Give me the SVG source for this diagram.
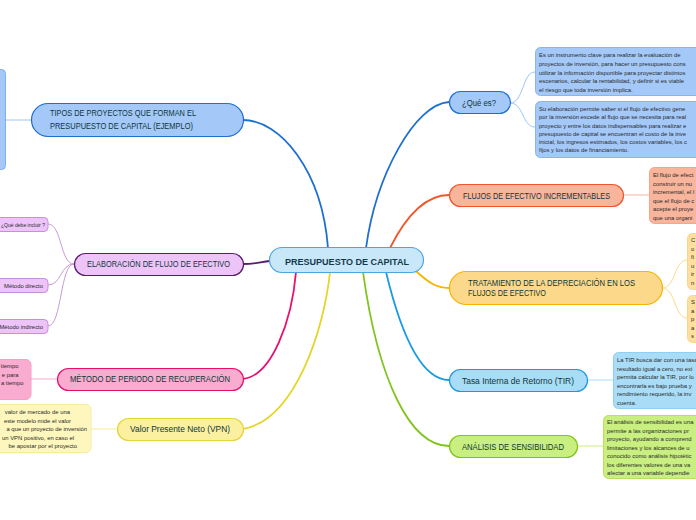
<svg xmlns="http://www.w3.org/2000/svg" width="696" height="520" viewBox="0 0 696 520">
<style>
text{font-family:"Liberation Sans",Arial,sans-serif;}
.lbl{font-size:8.5px;fill:#0f3636;}
.sm{font-size:5.9px;fill:#2a2a2a;}
.node{stroke-width:1.2;}
.conn{fill:none;stroke-width:1.8;stroke-linecap:round;}
.sub{fill:none;stroke-width:1;}
</style>
<rect width="696" height="520" fill="#ffffff"/>
<g id="connectors">
<path class="conn" stroke="#1f6fd1" d="M243,120 C280,120 322,170 328,248"/>
<path class="conn" stroke="#5c1a6e" d="M243,264 C256,264 260,262 270,261"/>
<path class="conn" stroke="#e8106c" d="M243,379 C272,376 292,320 296,272"/>
<path class="conn" stroke="#e6d528" d="M243,429 C295,420 324,330 330,272"/>
<path class="conn" stroke="#1f6fd1" d="M366,248 C376,175 415,104 449,102"/>
<path class="conn" stroke="#f0572a" d="M390,248 C408,212 428,195 449,195"/>
<path class="conn" stroke="#f5b400" d="M417,272 C430,284 438,288 449,288"/>
<path class="conn" stroke="#1a9be0" d="M386,272 C400,330 420,380 449,380"/>
<path class="conn" stroke="#80c41c" d="M363,272 C378,380 410,446 449,446"/>
<path class="sub" stroke="#9cc4f4" d="M5,120 L31,120"/>
<path class="sub" stroke="#c89ad6" d="M74,264 C60,264 62,224 48,224"/>
<path class="sub" stroke="#c89ad6" d="M74,264 C60,264 62,285 48,285"/>
<path class="sub" stroke="#c89ad6" d="M74,264 C60,264 62,326 48,326"/>
<path class="sub" stroke="#f7a8cc" d="M31,379 L57,379"/>
<path class="sub" stroke="#f6ec9c" d="M91,429 L117,429"/>
<path class="sub" stroke="#9cc4f4" d="M510,103 C524,103 522,72 535,72"/>
<path class="sub" stroke="#9cc4f4" d="M510,103 C524,103 522,127 535,127"/>
<path class="sub" stroke="#f7b39c" d="M623,195 L649,195"/>
<path class="sub" stroke="#fbd98a" d="M662,288 C676,288 674,260 687,260"/>
<path class="sub" stroke="#fbd98a" d="M662,288 C676,288 674,318 687,318"/>
<path class="sub" stroke="#a9dcf7" d="M587,380 L613,380"/>
<path class="sub" stroke="#c9ef80" d="M577,446 L603,446"/>
</g>
<g id="central">
<rect class="node" x="269.5" y="247.5" width="154" height="25" rx="12.5" fill="#c8e8fa" stroke="#4da6e0"/>
<text x="285" y="265" font-size="9.5" font-weight="bold" fill="#143a4a" textLength="124" lengthAdjust="spacingAndGlyphs">PRESUPUESTO DE CAPITAL</text>
</g>
<g id="tipos">
<rect class="node" x="31.5" y="103.5" width="212" height="33" rx="16.5" fill="#a4c8f8" stroke="#1f6fd1"/>
<text class="lbl" x="50" y="116" font-size="8" textLength="146" lengthAdjust="spacingAndGlyphs">TIPOS DE PROYECTOS QUE FORMAN EL</text>
<text class="lbl" x="50" y="129" font-size="8" textLength="143" lengthAdjust="spacingAndGlyphs">PRESUPUESTO DE CAPITAL (EJEMPLO)</text>
</g>
<g id="tipos-detalle">
<rect x="-10" y="69.5" width="15.5" height="100" rx="4" fill="#a4c8f8" stroke="#7eb0f0"/>
</g>
<g id="elaboracion">
<rect class="node" x="74.5" y="253.5" width="169" height="22" rx="11" fill="#ecc4f8" stroke="#5c1a6e"/>
<text class="lbl" x="87" y="267" textLength="143" lengthAdjust="spacingAndGlyphs">ELABORACIÓN DE FLUJO DE EFECTIVO</text>
</g>
<g id="que-debe-incluir">
<rect x="-10" y="217.5" width="58" height="14" rx="4" fill="#ecc4f8" stroke="#c98ede"/>
<text class="sm" x="1" y="226.5" textLength="44" lengthAdjust="spacingAndGlyphs">¿Qué debe incluir ?</text>
</g>
<g id="metodo-directo">
<rect x="-10" y="278.5" width="58" height="14" rx="4" fill="#ecc4f8" stroke="#c98ede"/>
<text class="sm" x="43" y="287.5" text-anchor="end">Método directo</text>
</g>
<g id="metodo-indirecto">
<rect x="-10" y="319.5" width="58" height="14" rx="4" fill="#ecc4f8" stroke="#c98ede"/>
<text class="sm" x="43" y="328.5" text-anchor="end">Método indirecto</text>
</g>
<g id="metodo-recuperacion">
<rect class="node" x="57.5" y="368.5" width="186" height="22" rx="11" fill="#f9abd0" stroke="#e8106c"/>
<text class="lbl" x="70" y="382" textLength="160" lengthAdjust="spacingAndGlyphs">MÉTODO DE PERIODO DE RECUPERACIÓN</text>
</g>
<g id="recuperacion-detalle">
<rect x="-10" y="359.5" width="41" height="40" rx="5" fill="#f9abd0" stroke="#f7a0c8"/>
<text class="sm" x="18.5" y="368" text-anchor="end">tiempo</text>
<text class="sm" x="18.5" y="376.5" text-anchor="end">e para</text>
<text class="sm" x="23.5" y="385" text-anchor="end">a tiempo</text>
</g>
<g id="vpn">
<rect class="node" x="117.5" y="418.5" width="126" height="22" rx="11" fill="#fbf0a0" stroke="#e6d53a"/>
<text class="lbl" x="130" y="432" textLength="100" lengthAdjust="spacingAndGlyphs">Valor Presente Neto (VPN)</text>
</g>
<g id="vpn-detalle">
<rect x="-10" y="404.5" width="101" height="48" rx="5" fill="#fdf7bd" stroke="#f6ec9c"/>
<text class="sm" x="70" y="414" text-anchor="end">valor de mercado de una</text>
<text class="sm" x="71" y="422.5" text-anchor="end">este modelo mide el valor</text>
<text class="sm" x="87" y="431" text-anchor="end">a que un proyecto de inversión</text>
<text class="sm" x="74" y="439.5" text-anchor="end">un VPN positivo, en caso el</text>
<text class="sm" x="77" y="448" text-anchor="end">be apostar por el proyecto</text>
</g>
<g id="que-es">
<rect class="node" x="449.5" y="91.5" width="61" height="22" rx="11" fill="#a4c8f8" stroke="#1f6fd1"/>
<text class="lbl" x="462" y="106" font-size="9" textLength="34" lengthAdjust="spacingAndGlyphs">¿Qué es?</text>
</g>
<g id="que-es-1">
<rect x="535.5" y="47.5" width="180" height="48" rx="5" fill="#a4c8f8" stroke="#86b6f2"/>
<text class="sm" x="539" y="57">Es un instrumento clave para realizar la evaluación de</text>
<text class="sm" x="539" y="66">proyectos de inversión, para hacer un presupuesto cons</text>
<text class="sm" x="539" y="74.5">utilizar la información disponible para proyectar distintos</text>
<text class="sm" x="539" y="83">escenarios, calcular la rentabilidad, y definir si es viable</text>
<text class="sm" x="539" y="91.5">el riesgo que toda inversión implica.</text>
</g>
<g id="que-es-2">
<rect x="535.5" y="101.5" width="180" height="56" rx="5" fill="#a4c8f8" stroke="#86b6f2"/>
<text class="sm" x="539" y="111">Su elaboración permite saber si el flujo de efectivo gene</text>
<text class="sm" x="539" y="119">por la inversión excede al flujo que se necesita para real</text>
<text class="sm" x="539" y="127.5">proyecto y entre los datos indispensables para realizar e</text>
<text class="sm" x="539" y="135.5">presupuesto de capital se encuentran el costo de la inve</text>
<text class="sm" x="539" y="143.5">inicial, los ingresos estimados, los costos variables, los c</text>
<text class="sm" x="539" y="152">fijos y los datos de financiamiento.</text>
</g>
<g id="flujos-incrementables">
<rect class="node" x="449.5" y="184.5" width="174" height="22" rx="11" fill="#f9b49c" stroke="#f0572a"/>
<text class="lbl" x="463" y="198.5" textLength="147" lengthAdjust="spacingAndGlyphs">FLUJOS DE EFECTIVO INCREMENTABLES</text>
</g>
<g id="flujos-detalle">
<rect x="649.5" y="167.5" width="70" height="56" rx="5" fill="#f9b49c" stroke="#f5a58a"/>
<text class="sm" x="653" y="177">El flujo de efect</text>
<text class="sm" x="653" y="185.5">construir un nu</text>
<text class="sm" x="653" y="194">incremental, el l</text>
<text class="sm" x="653" y="202.5">que el flujo de c</text>
<text class="sm" x="653" y="211">acepte el proye</text>
<text class="sm" x="653" y="219.5">que una organi</text>
</g>
<g id="tratamiento">
<rect class="node" x="449.5" y="271.5" width="213" height="33" rx="16.5" fill="#fcd88a" stroke="#f5b400"/>
<text class="lbl" x="468" y="285.5" textLength="167" lengthAdjust="spacingAndGlyphs">TRATAMIENTO DE LA DEPRECIACIÓN EN LOS</text>
<text class="lbl" x="468" y="295.5" textLength="78" lengthAdjust="spacingAndGlyphs">FLUJOS DE EFECTIVO</text>
</g>
<g id="tratamiento-1">
<rect x="687.5" y="233.5" width="30" height="56" rx="5" fill="#fde0a0" stroke="#fbd48a"/>
<text class="sm" x="691" y="242">C</text>
<text class="sm" x="691" y="250.5">o</text>
<text class="sm" x="691" y="259">fi</text>
<text class="sm" x="691" y="267.5">u</text>
<text class="sm" x="691" y="276">ir</text>
<text class="sm" x="691" y="284.5">n</text>
</g>
<g id="tratamiento-2">
<rect x="687.5" y="295.5" width="30" height="47" rx="5" fill="#fde0a0" stroke="#fbd48a"/>
<text class="sm" x="691" y="304">S</text>
<text class="sm" x="691" y="312.5">a</text>
<text class="sm" x="691" y="321">p</text>
<text class="sm" x="691" y="329.5">a</text>
<text class="sm" x="691" y="338">s</text>
</g>
<g id="tir">
<rect class="node" x="449.5" y="369.5" width="138" height="22" rx="11" fill="#a9dcf7" stroke="#1a9be0"/>
<text class="lbl" x="462" y="384" textLength="112" lengthAdjust="spacingAndGlyphs">Tasa Interna de Retorno (TIR)</text>
</g>
<g id="tir-detalle">
<rect x="613.5" y="352.5" width="100" height="56" rx="5" fill="#a9dcf7" stroke="#8fd0f2"/>
<text class="sm" x="617" y="362">La TIR busca dar con una tasa</text>
<text class="sm" x="617" y="370.5">resultado igual a cero, no exi</text>
<text class="sm" x="617" y="379">permita calcular la TIR, por lo</text>
<text class="sm" x="617" y="387.5">encontrarla es bajo prueba y</text>
<text class="sm" x="617" y="396">rendimiento requerido, la inv</text>
<text class="sm" x="617" y="404.5">cuenta.</text>
</g>
<g id="analisis">
<rect class="node" x="449.5" y="435.5" width="128" height="22" rx="11" fill="#c9ef80" stroke="#80c41c"/>
<text class="lbl" x="462" y="450" textLength="102" lengthAdjust="spacingAndGlyphs">ANÁLISIS DE SENSIBILIDAD</text>
</g>
<g id="analisis-detalle">
<rect x="603.5" y="415.5" width="110" height="63" rx="5" fill="#c9ef80" stroke="#b4e25e"/>
<text class="sm" x="607" y="424">El análisis de sensibilidad es una</text>
<text class="sm" x="607" y="432.5">permite a las organizaciones pr</text>
<text class="sm" x="607" y="441">proyecto, ayudando a comprend</text>
<text class="sm" x="607" y="449.5">limitaciones y los alcances de u</text>
<text class="sm" x="607" y="458">conocido como análisis hipotétic</text>
<text class="sm" x="607" y="466.5">los diferentes valores de una va</text>
<text class="sm" x="607" y="475">afectar a una variable dependie</text>
</g>
</svg>
